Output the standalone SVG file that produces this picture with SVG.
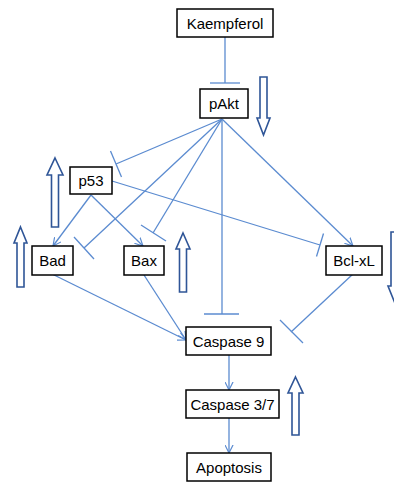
<svg xmlns="http://www.w3.org/2000/svg" width="394" height="483" viewBox="0 0 394 483">
<style>
.box{fill:#fff;stroke:#000;stroke-width:1.5}
.lbl{font-family:"Liberation Sans",Arial,sans-serif;font-size:15px;fill:#000;text-anchor:middle}
.c{stroke:#5b8bd0;stroke-width:1.3;fill:none}
.big{fill:#fff;stroke:#2f5597;stroke-width:1.6}
</style>
<defs>
<marker id="ah" viewBox="0 0 10 10" refX="9" refY="5" markerWidth="9" markerHeight="9" markerUnits="userSpaceOnUse" orient="auto">
<path d="M0,0.5 L9,5 L0,9.5" fill="none" stroke="#5b8bd0" stroke-width="1.3"/>
</marker>
</defs>
<rect width="394" height="483" fill="#fff"/>
<g id="connectors">
<line class="c" x1="225" y1="37" x2="225" y2="83"/>
<line class="c" x1="210" y1="83" x2="240" y2="83"/>
<line class="c" x1="222" y1="119" x2="116" y2="164"/>
<line class="c" x1="110.5" y1="151" x2="121.5" y2="177"/>
<line class="c" x1="222" y1="119" x2="84" y2="248"/>
<line class="c" x1="74" y1="237" x2="94" y2="259"/>
<line class="c" x1="222" y1="119" x2="153" y2="233"/>
<line class="c" x1="141" y1="225" x2="166" y2="241"/>
<line class="c" x1="222" y1="119" x2="222" y2="314"/>
<line class="c" x1="204" y1="314" x2="239" y2="314"/>
<line class="c" x1="222" y1="119" x2="353" y2="246" marker-end="url(#ah)"/>
<line class="c" x1="91" y1="195" x2="53" y2="246" marker-end="url(#ah)"/>
<line class="c" x1="91" y1="195" x2="143" y2="246" marker-end="url(#ah)"/>
<line class="c" x1="112" y1="181" x2="320" y2="245"/>
<line class="c" x1="323.5" y1="233.5" x2="316.5" y2="256.5"/>
<line class="c" x1="52" y1="274" x2="186" y2="340" marker-end="url(#ah)"/>
<line class="c" x1="144" y1="275" x2="186" y2="340" marker-end="url(#ah)"/>
<line class="c" x1="353" y1="274" x2="291" y2="332"/>
<line class="c" x1="280" y1="320" x2="303" y2="343"/>
<line class="c" x1="229" y1="355" x2="229" y2="390" marker-end="url(#ah)"/>
<line class="c" x1="229" y1="418" x2="229" y2="453" marker-end="url(#ah)"/>
</g>
<g id="indicators">
<polygon class="big" points="260,77 267,77 267,118 270,118 263.5,135 257,118 260,118"/>
<polygon class="big" points="55,158 63,175 58.5,175 58.5,227 51.5,227 51.5,175 47,175"/>
<polygon class="big" points="20.5,227 27,243 24,243 24,287 17,287 17,243 14,243"/>
<polygon class="big" points="183,233 190,249 186.5,249 186.5,292 179.5,292 179.5,249 176,249"/>
<polygon class="big" points="295.5,377 303,393 299,393 299,435 292,435 292,393 288,393"/>
<polygon class="big" points="391,232 398,232 398,286 401,286 394.5,302 388,286 391,286"/>
</g>
<g id="kaempferol"><rect class="box" x="177" y="9" width="96" height="28"/><text class="lbl" x="225" y="29">Kaempferol</text></g>
<g id="pakt"><rect class="box" x="200" y="89" width="48" height="29"/><text class="lbl" x="224" y="109">pAkt</text></g>
<g id="p53"><rect class="box" x="70" y="167" width="42" height="27"/><text class="lbl" x="91" y="186">p53</text></g>
<g id="bad"><rect class="box" x="32" y="246" width="41" height="29"/><text class="lbl" x="52.5" y="266">Bad</text></g>
<g id="bax"><rect class="box" x="124" y="246" width="40" height="29"/><text class="lbl" x="144" y="266">Bax</text></g>
<g id="bclxl"><rect class="box" x="326" y="246" width="56" height="29"/><text class="lbl" x="354" y="266">Bcl-xL</text></g>
<g id="caspase9"><rect class="box" x="186" y="327" width="85" height="28"/><text class="lbl" x="228.5" y="347">Caspase 9</text></g>
<g id="caspase37"><rect class="box" x="186" y="390" width="93" height="28"/><text class="lbl" x="232.5" y="410">Caspase 3/7</text></g>
<g id="apoptosis"><rect class="box" x="187" y="453" width="84" height="28"/><text class="lbl" x="229" y="473">Apoptosis</text></g>
</svg>
